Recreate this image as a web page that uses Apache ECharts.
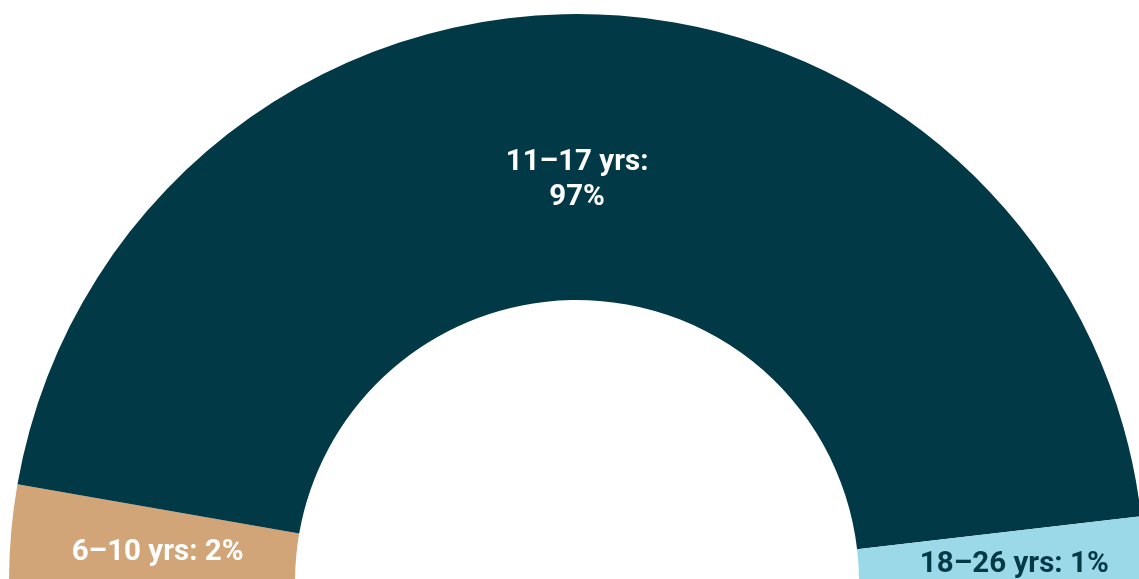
<!DOCTYPE html>
<html>
<head>
<meta charset="utf-8">
<script src="https://cdn.jsdelivr.net/npm/echarts@6/dist/echarts.min.js"></script>
<style>
html,body{margin:0;padding:0;background:#fff;}
#c{width:1139px;height:579px;}
</style>
</head>
<body>
<div id="c"></div>
<script>
// Age groups and their shares as drawn (slice sizes)
const categories = ['6–10 yrs', '11–17 yrs', '18–26 yrs'];
const sliceShare = [5.5, 90.8, 3.7];
// Percentages as printed on the labels
const labelPct = ['2%', '97%', '1%'];
const colors = ['#D1A578', '#023947', '#9BD8E8'];
const labelColors = ['#ffffff', '#ffffff', '#023947'];
const labelSep = [' ', '\n', ' '];
const labelOffsets = [[7, 8], [-12, 26], [10, 7]];

const chart = echarts.init(document.getElementById('c'), null, {renderer: 'canvas'});
const data = categories.map((c, i) => ({
  name: c,
  value: sliceShare[i],
  itemStyle: {color: colors[i]},
  label: {
    color: labelColors[i],
    offset: labelOffsets[i],
    formatter: c + ':' + labelSep[i] + labelPct[i]
  }
}));
chart.setOption({
  animation: false,
  series: [{
    type: 'pie',
    center: [577, 582],
    radius: [282, 568],
    startAngle: 180,
    endAngle: 360,
    clockwise: true,
    silent: true,
    itemStyle: {borderWidth: 0},
    label: {
      show: true,
      position: 'inside',
      fontFamily: 'Roboto',
      fontWeight: 'bold',
      fontSize: 29.5,
      lineHeight: 35,
      align: 'center'
    },
    labelLine: {show: false},
    data: data
  }]
});
</script>
</body>
</html>
